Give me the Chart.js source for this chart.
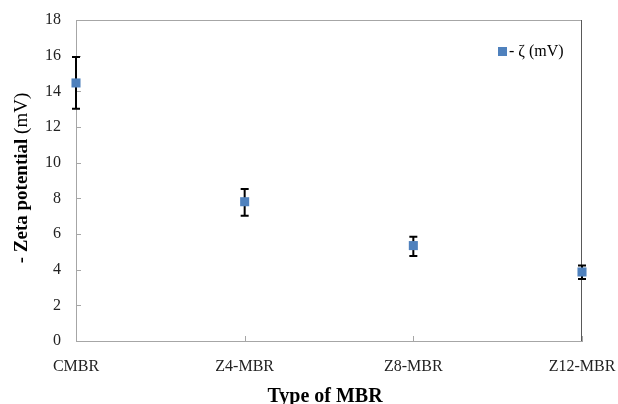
<!DOCTYPE html>
<html>
<head>
<meta charset="utf-8">
<script src="https://cdn.jsdelivr.net/npm/chart.js@4/dist/chart.umd.min.js"></script>
<style>
html,body{margin:0;padding:0;background:#fff;}
#wrap{width:618px;height:404px;position:relative;}
</style>
</head>
<body>
<div id="wrap"><canvas id="c" width="618" height="404"></canvas></div>
<script>
const categories = ['CMBR', 'Z4-MBR', 'Z8-MBR', 'Z12-MBR'];
const zeta = [14.47, 7.81, 5.35, 3.87];
const errLow = [13.03, 7.03, 4.77, 3.48];
const errHigh = [15.93, 8.52, 5.85, 4.24];
const yMin = 0, yMax = 18, yStep = 2;
const seriesLabel = '- \u03B6 (mV)';
const yTitleBold = '- Zeta potential ';
const yTitleNormal = '(mV)';
const xTitle = 'Type of MBR';

const SERIF = "'Liberation Serif', 'Times New Roman', serif";
const BLUE = '#4F81BD';

function zeroPad(s) { s.paddingLeft = 0; s.paddingRight = 0; s.paddingTop = 0; s.paddingBottom = 0; }

const framePlugin = {
  id: 'frame',
  beforeDatasetsDraw(chart) {
    const {ctx, chartArea: a, scales: {x, y}} = chart;
    ctx.save();
    ctx.lineWidth = 1;
    // top border
    ctx.strokeStyle = '#A6A6A6';
    ctx.beginPath();
    ctx.moveTo(a.left, Math.round(a.top) + 0.5);
    ctx.lineTo(a.right, Math.round(a.top) + 0.5);
    ctx.stroke();
    // right border
    ctx.strokeStyle = '#595959';
    ctx.beginPath();
    ctx.moveTo(Math.round(a.right) - 0.5, a.top);
    ctx.lineTo(Math.round(a.right) - 0.5, a.bottom);
    ctx.stroke();
    // inside ticks
    ctx.strokeStyle = '#A6A6A6';
    y.ticks.forEach((t, i) => {
      const py = Math.round(y.getPixelForTick(i)) + 0.5;
      ctx.beginPath();
      ctx.moveTo(a.left, py);
      ctx.lineTo(a.left + 5, py);
      ctx.stroke();
    });
    x.ticks.forEach((t, i) => {
      const px = Math.round(x.getPixelForTick(i)) + 0.5;
      ctx.beginPath();
      ctx.moveTo(px, a.bottom);
      ctx.lineTo(px, a.bottom - 5);
      ctx.stroke();
    });
    // error bars
    ctx.strokeStyle = '#000';
    ctx.lineWidth = 2;
    categories.forEach((c, i) => {
      const px = x.getPixelForValue(i);
      const yl = y.getPixelForValue(errLow[i]);
      const yh = y.getPixelForValue(errHigh[i]);
      ctx.beginPath();
      ctx.moveTo(px, yl); ctx.lineTo(px, yh);
      ctx.moveTo(px - 4, yh); ctx.lineTo(px + 4, yh);
      ctx.moveTo(px - 4, yl); ctx.lineTo(px + 4, yl);
      ctx.stroke();
    });
    ctx.restore();
  },
  afterDraw(chart) {
    const {ctx} = chart;
    ctx.save();
    ctx.fillStyle = '#000';
    ctx.textBaseline = 'alphabetic';
    const fb = "bold 19px " + SERIF;
    const fn = "19px " + SERIF;
    ctx.font = fb; const wb = ctx.measureText(yTitleBold).width;
    ctx.font = fn; const wn = ctx.measureText(yTitleNormal).width;
    const total = wb + wn;
    ctx.translate(27, 178);
    ctx.rotate(-Math.PI / 2);
    ctx.textAlign = 'left';
    ctx.font = fb; ctx.fillText(yTitleBold, -total / 2, 0);
    ctx.font = fn; ctx.fillText(yTitleNormal, -total / 2 + wb, 0);
    ctx.setTransform(1, 0, 0, 1, 0, 0);
    ctx.font = "bold 20px " + SERIF;
    ctx.textAlign = 'center';
    ctx.fillText(xTitle, 325, 402);
    const ds = chart.data.datasets[0];
    ctx.fillStyle = ds.backgroundColor;
    ctx.fillRect(498, 47, 9, 9);
    ctx.fillStyle = '#000';
    ctx.font = "16px " + SERIF;
    ctx.textAlign = 'left';
    ctx.textBaseline = 'middle';
    ctx.fillText(ds.label, 509, 52);
    ctx.restore();
  }
};

new Chart(document.getElementById('c'), {
  type: 'line',
  data: {
    labels: categories,
    datasets: [{
      label: seriesLabel,
      data: zeta,
      showLine: false,
      pointStyle: 'rect',
      pointRadius: 6.4,
      pointHoverRadius: 6.4,
      backgroundColor: BLUE,
      borderColor: BLUE,
      pointBorderWidth: 0,
      clip: false
    }]
  },
  options: {
    responsive: false,
    animation: false,
    devicePixelRatio: 1,
    layout: {padding: {left: 0, right: 36, top: 20, bottom: 0}},
    plugins: {legend: {display: false}, tooltip: {enabled: false}},
    scales: {
      x: {
        type: 'category',
        offset: false,
        grid: {display: false, drawTicks: false},
        border: {display: true, color: '#A6A6A6', width: 1},
        ticks: {
          padding: 16,
          color: '#222',
          font: {family: SERIF, size: 16},
          maxRotation: 0, autoSkip: false
        },
        afterFit(s) { s.height = 63; zeroPad(s); }
      },
      y: {
        min: yMin, max: yMax,
        grid: {display: false, drawTicks: false},
        border: {display: true, color: '#A6A6A6', width: 1},
        ticks: {
          stepSize: yStep,
          padding: 15,
          color: '#222',
          font: {family: SERIF, size: 16}
        },
        afterFit(s) { s.width = 76; zeroPad(s); }
      }
    }
  },
  plugins: [framePlugin]
});
</script>
</body>
</html>
